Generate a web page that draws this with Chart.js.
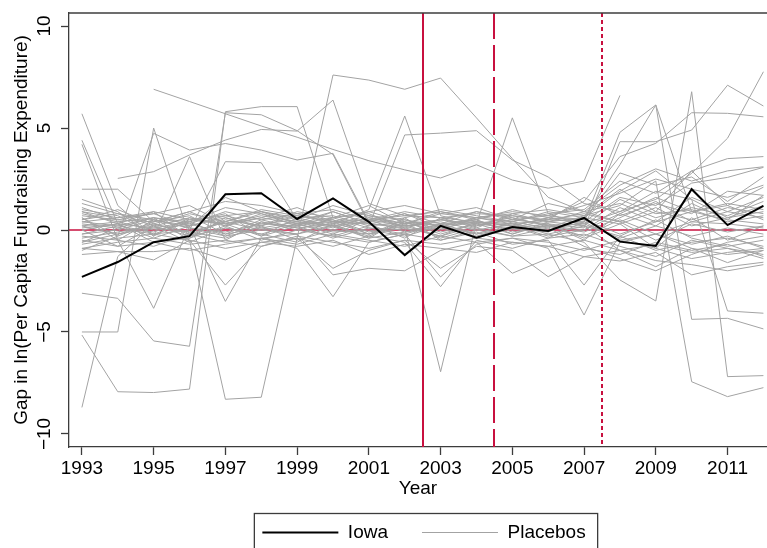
<!DOCTYPE html>
<html>
<head>
<meta charset="utf-8">
<script src="https://cdn.jsdelivr.net/npm/chart.js@4.4.0/dist/chart.umd.min.js"></script>
<style>
  html, body { margin: 0; padding: 0; background: #fff; overflow: hidden; }
  #wrap { width: 767px; height: 552px; }
</style>
</head>
<body>
<div id="wrap"><canvas id="gapChart" width="767" height="552"></canvas></div>
<script>
// ── Series (gap in log per-capita fundraising spend) ─────────
const years = [1993,1994,1995,1996,1997,1998,1999,2000,2001,2002,2003,2004,2005,2006,2007,2008,2009,2010,2011,2012];

const iowa = [-2.3,-1.57,-0.6,-0.3,1.75,1.8,0.54,1.55,0.4,-1.23,0.2,-0.38,0.15,-0.05,0.59,-0.57,-0.78,2.0,0.24,1.18];

// one row per placebo state, same years as above (null = no data)
const placebos = [
  [null,null,6.9,6.3,5.7,5.1,4.55,3.95,3.4,2.95,2.55,3.2,2.45,2.05,2.4,6.6,null,null,null,null],
  [0.3,0.1,0.6,-0.5,-8.3,-8.2,-0.4,7.6,7.35,6.9,7.45,5.5,3.5,1.6,0.9,1.3,0.6,1.1,0.7,1.4],
  [-5.15,-7.93,-7.97,-7.8,5.8,6.05,6.05,0.6,0.9,0.4,0.2,0.5,-0.2,0.3,-0.5,0.8,1.6,0.9,1.2,0.5],
  [-3.1,-3.35,-5.44,-5.7,5.75,5.65,4.87,3.7,0.3,-0.4,0.6,0.1,0.8,0.4,0.9,2.2,3.0,2.4,2.9,3.1],
  [null,2.53,2.86,3.68,4.41,4.93,4.85,6.37,1.3,0.7,0.9,0.5,1.0,0.6,0.3,-0.4,0.2,-0.3,0.1,-0.2],
  [0.6,-0.3,4.74,3.92,4.24,3.92,3.43,3.76,0.4,0.8,0.3,0.9,0.5,0.7,1.2,1.8,2.5,2.0,1.6,2.2],
  [1.0,0.7,-0.2,0.0,3.35,3.3,0.5,0.2,-0.3,0.4,-0.2,0.3,0.1,0.5,0.8,0.4,-0.5,0.3,-0.1,0.2],
  [-5.0,-5.0,5.0,-0.3,0.5,0.2,0.9,0.6,1.2,0.3,0.8,1.1,0.5,1.3,0.9,0.4,1.1,0.2,0.6,0.9],
  [1.5,0.9,-0.3,3.6,-0.5,0.4,0.1,0.3,1.0,5.59,0.7,0.3,-0.2,0.4,0.2,-0.3,-1.0,-0.6,-0.4,-0.8],
  [0.5,1.0,0.3,0.8,0.4,0.9,0.6,0.7,0.2,4.66,4.75,4.87,3.43,2.6,1.3,0.9,1.9,1.5,0.6,1.2],
  [0.2,0.4,0.0,0.3,-0.2,0.5,0.1,-0.3,0.2,0.4,-0.1,0.3,5.5,0.8,0.2,1.5,0.8,1.0,0.4,0.7],
  [0.9,0.6,0.8,0.2,0.7,0.3,0.5,0.1,0.6,0.2,0.4,0.0,0.3,0.5,0.4,4.79,6.13,-4.38,-4.33,-4.85],
  [-0.4,-0.1,0.2,-0.3,0.1,-0.2,0.3,-0.1,0.0,-0.3,0.2,-0.2,0.1,-0.1,0.6,3.2,6.13,0.9,0.5,0.3],
  [0.1,0.3,-0.4,0.2,0.6,0.1,-0.2,0.4,0.3,0.1,-0.3,0.2,0.5,0.3,0.1,4.33,4.33,4.9,7.1,6.08],
  [-0.6,-0.2,0.3,-0.1,-0.4,0.2,-0.5,0.0,-0.2,0.3,-0.4,0.1,-0.3,-0.2,-0.6,-2.45,-3.48,6.78,-7.19,-7.14],
  [0.4,0.2,-0.1,0.5,0.3,-0.3,0.2,0.5,-0.1,0.2,0.3,-0.2,0.4,0.1,0.7,1.2,2.4,-7.44,-8.17,-7.73],
  [0.7,0.5,0.4,0.9,0.2,0.6,0.3,0.4,0.5,0.7,0.6,0.4,0.2,0.6,1.4,3.6,4.25,5.75,5.72,5.55],
  [-0.2,0.0,0.5,0.1,-0.1,0.3,0.2,-0.4,0.1,0.0,0.2,0.4,0.0,0.2,0.3,0.9,1.5,2.78,4.5,7.76],
  [0.8,0.4,0.6,0.3,0.9,0.5,0.8,0.3,0.7,0.5,0.2,0.6,0.4,0.8,1.0,2.4,1.8,2.9,3.5,3.6],
  [0.2,-0.2,0.1,0.4,-0.3,0.0,-0.2,0.2,-0.4,-0.1,0.1,-0.3,0.2,-0.4,0.4,1.6,1.2,2.3,2.58,3.07],
  [-0.9,-0.6,-0.4,-0.7,-0.5,-0.8,-0.3,-0.6,-0.9,-0.5,-0.7,-0.4,-0.6,-0.8,-1.31,-1.52,-1.1,-2.2,-1.8,-1.58],
  [0.5,0.8,0.2,0.6,0.3,0.7,0.4,0.2,0.6,0.3,0.5,0.2,0.7,0.4,0.6,1.9,2.9,1.5,-3.97,-4.08],
  [-0.3,-0.5,-0.8,-0.2,-0.6,-0.4,-0.7,-0.2,-0.5,-0.8,-0.3,-0.6,-0.4,-0.9,-4.17,-0.6,-0.2,-0.9,-1.2,-1.0],
  [0.0,0.3,-0.6,-0.4,0.2,-0.5,0.0,-0.3,-0.6,-0.2,-0.5,-0.1,-0.7,-0.5,-2.7,-0.3,0.5,-0.4,-0.8,-0.5],
  [0.4,0.6,0.9,0.5,0.7,0.9,0.3,0.6,0.8,0.1,-6.95,0.4,0.2,0.6,0.5,-0.2,0.4,0.9,1.3,1.0],
  [-0.7,-0.4,-0.2,-0.5,-0.9,-0.6,-0.4,-0.8,-0.3,-0.6,-2.78,-0.5,-0.9,-0.4,-0.2,-0.8,-1.3,-0.5,-0.9,-1.2],
  [-0.5,-0.8,-0.6,-1.0,-0.7,-0.4,-0.9,-3.27,-0.6,-0.2,-2.3,-0.7,-0.4,-0.6,-1.0,-0.5,-0.9,-1.4,-1.1,-0.9],
  [0.6,-0.5,-3.84,0.2,-3.5,-0.4,-0.2,-2.2,-1.88,-2.0,-1.0,-0.6,-2.12,-1.39,-0.9,-1.2,-0.6,-1.0,-0.7,-1.3],
  [-0.9,-1.06,-1.47,-0.5,-2.7,-0.8,-0.4,-1.88,-1.0,-0.5,-1.88,-0.8,-1.0,-2.29,-1.31,-1.0,-1.5,-1.7,-2.0,-1.7],
  [-1.2,-1.06,-1.06,-0.9,-1.47,-0.6,-0.8,-0.5,-1.2,-0.7,-0.9,-1.1,-0.6,-0.8,-0.5,-1.0,-0.7,-1.1,-0.9,-1.4],
  [2.0,2.0,0.4,0.9,1.4,1.2,0.8,1.0,0.5,0.9,0.6,0.8,0.7,0.5,1.6,0.7,1.3,0.8,1.9,1.7],
  [1.1,0.5,0.8,1.2,0.3,0.6,1.1,0.4,0.9,1.2,0.8,0.6,0.9,0.7,0.5,2.8,2.2,2.6,1.4,2.6],
  [-0.2,0.2,0.6,0.4,1.1,0.8,0.2,0.9,0.3,0.6,1.0,0.7,0.4,0.9,0.6,0.3,0.9,0.5,1.1,0.8],
  [0.9,0.3,0.1,-0.1,0.4,1.0,0.7,0.5,-0.2,0.1,0.5,0.9,0.6,0.2,0.0,1.1,0.4,1.6,0.9,1.6],
  [-1.0,-0.3,0.4,0.7,-0.2,0.1,0.4,0.0,0.5,-0.1,0.3,0.5,-0.1,0.2,-0.3,0.5,-0.2,0.4,0.3,0.1],
  [1.3,0.8,0.5,0.2,1.6,0.9,0.5,1.2,0.7,0.3,0.9,0.6,0.8,1.0,0.7,2.0,0.9,2.9,1.2,2.1],
  [-0.6,0.1,-0.2,0.4,0.8,-0.3,0.6,0.2,0.4,0.8,0.1,0.4,0.3,-0.2,0.2,-1.0,-1.8,-0.9,-1.6,-1.0],
  [0.0,-0.8,0.2,-0.6,0.1,-0.2,-0.6,0.3,-0.4,0.6,-0.5,0.0,-0.3,0.1,-0.8,-1.4,-2.0,-1.2,-0.6,-0.3],
  [5.7,1.2,-0.3,0.6,0.2,0.8,0.4,0.9,0.3,0.2,0.5,0.3,0.6,0.2,-0.1,0.6,1.4,0.4,0.9,0.6],
  [4.4,0.3,0.9,-0.4,0.6,0.2,0.7,0.4,-0.2,0.5,0.0,0.6,0.3,0.0,0.4,-0.5,-0.2,-0.7,-0.3,-0.9],
  [4.2,-0.5,0.5,0.1,-0.3,0.4,0.0,0.6,0.1,-0.2,0.3,-0.4,0.1,0.3,-0.4,0.3,-0.9,0.6,-0.5,0.2],
  [-8.7,-1.3,0.3,-0.2,0.4,0.0,0.3,-0.2,0.5,0.2,-0.3,0.4,0.2,-0.3,0.0,0.8,0.2,1.3,0.5,1.7]
];

const xTicks = [1993,1995,1997,1999,2001,2003,2005,2007,2009,2011];
const yTicks = [-10,-5,0,5,10];

// treatment / announcement dates, drawn as vertical rules
const cutYears = [2002.5, 2004.5, 2007.5];

// ── Styling ────────────────────────────────────────────────
const FONT  = "'Liberation Sans', Arial, Helvetica, sans-serif";
const RED   = '#c8103f';
const GREY  = '#a3a3a3';
const AXIS  = '#3c3c3c';
const CUT_DASH = [[], [26, 6], [4, 3]];

function toPoints(vals) {
  return years.map((yr, i) => ({ x: yr, y: vals[i] }));
}

const datasets = [
  { label:'Iowa', data:toPoints(iowa), borderColor:'#000', backgroundColor:'#000', borderWidth:2, pointRadius:0, tension:0 },
  ...placebos.map(vals => ({
    label:'Placebos', data:toPoints(vals), borderColor:GREY, backgroundColor:GREY, borderWidth:1, pointRadius:0, tension:0, spanGaps:false
  }))
];

// zero line under the series, cut-off rules over them, frame + legend box last
const refLines = {
  id: 'refLines',
  afterLayout(chart) {
    // centre the legend under the plot region rather than the canvas
    const lg = chart.legend;
    if (lg) { lg.left = chart.chartArea.left + 6; lg.right = chart.chartArea.right + 6; }
  },
  beforeDatasetsDraw(chart) {
    const { ctx, chartArea: a, scales: { y } } = chart;
    const y0 = y.getPixelForValue(0);
    ctx.save();
    ctx.strokeStyle = RED;
    ctx.lineWidth = 1.5;
    ctx.beginPath(); ctx.moveTo(a.left, y0); ctx.lineTo(a.right, y0); ctx.stroke();
    ctx.restore();
  },
  afterDatasetsDraw(chart) {
    const { ctx, chartArea: a, scales: { x } } = chart;
    ctx.save();
    ctx.strokeStyle = RED;
    ctx.lineWidth = 2;
    cutYears.forEach((yr, i) => {
      const px = Math.round(x.getPixelForValue(yr));
      ctx.setLineDash(CUT_DASH[i]);
      ctx.beginPath(); ctx.moveTo(px, a.top); ctx.lineTo(px, a.bottom); ctx.stroke();
    });
    ctx.restore();
  },
  afterDraw(chart) {
    const { ctx, chartArea: a } = chart;
    ctx.save();
    ctx.strokeStyle = AXIS;
    ctx.lineWidth = 1.3;
    ctx.beginPath(); ctx.moveTo(a.left, a.top); ctx.lineTo(a.right, a.top); ctx.stroke();

    const hb = chart.legend && chart.legend.legendHitBoxes;
    if (hb && hb.length) {
      const first = hb[0], last = hb[hb.length - 1];
      const left = first.left - 8;
      const right = last.left + last.width + 12;
      const top = first.top + first.height / 2 - 19;
      const bottom = chart.height + 4;
      ctx.strokeRect(left, top, right - left, bottom - top);
    }
    ctx.restore();
  }
};

const tickFont = { family: FONT, size: 19 };

new Chart(document.getElementById('gapChart').getContext('2d'), {
  type: 'line',
  data: { datasets },
  options: {
    responsive: false,
    animation: false,
    devicePixelRatio: 1,
    layout: { padding: { top: 13, left: 0, right: 0, bottom: 0 } },
    scales: {
      x: {
        type: 'linear', min: 1992.64, max: 2012.1,
        afterBuildTicks: s => { s.ticks = xTicks.map(v => ({ value: v })); },
        afterFit: s => { s.height = 42; s.paddingLeft = 0; s.paddingRight = 0; },
        ticks: { color:'#000', font:tickFont, padding:2, maxRotation:0, autoSkip:false, callback: v => String(v) },
        grid: { display:true, drawOnChartArea:false, drawTicks:true, tickLength:8, tickColor:AXIS, tickWidth:1.3 },
        border: { display:true, color:AXIS, width:1.3 },
        title: { display:true, text:'Year', color:'#000', font:tickFont, padding:{ top:0, bottom:-11.4 } }
      },
      y: {
        type: 'linear', min: -10.64, max: 10.64,
        afterBuildTicks: s => { s.ticks = yTicks.map(v => ({ value: v })); },
        afterFit: s => { s.width = 69; s.paddingTop = 0; s.paddingBottom = 0; },
        ticks: {
          color:'#000', font:tickFont, padding:0, minRotation:90, maxRotation:90, crossAlign:'center',
          callback: v => v < 0 ? '\u2212' + Math.abs(v) : String(v)
        },
        grid: { display:true, drawOnChartArea:false, drawTicks:true, tickLength:8, tickColor:AXIS, tickWidth:1.3 },
        border: { display:true, color:AXIS, width:1.3 },
        title: { display:true, text:'Gap in ln(Per Capita Fundraising Expenditure)', color:'#000', font:tickFont, padding:{ top:10, bottom:0 } }
      }
    },
    plugins: {
      legend: {
        position: 'bottom',
        align: 'center',
        labels: {
          usePointStyle: true, pointStyle: 'line', pointStyleWidth: 76, boxHeight: 19,
          padding: 34, color: '#000', font: tickFont,
          filter: item => item.datasetIndex < 2
        }
      },
      tooltip: { enabled: false }
    }
  },
  plugins: [refLines]
});
</script>
</body>
</html>
